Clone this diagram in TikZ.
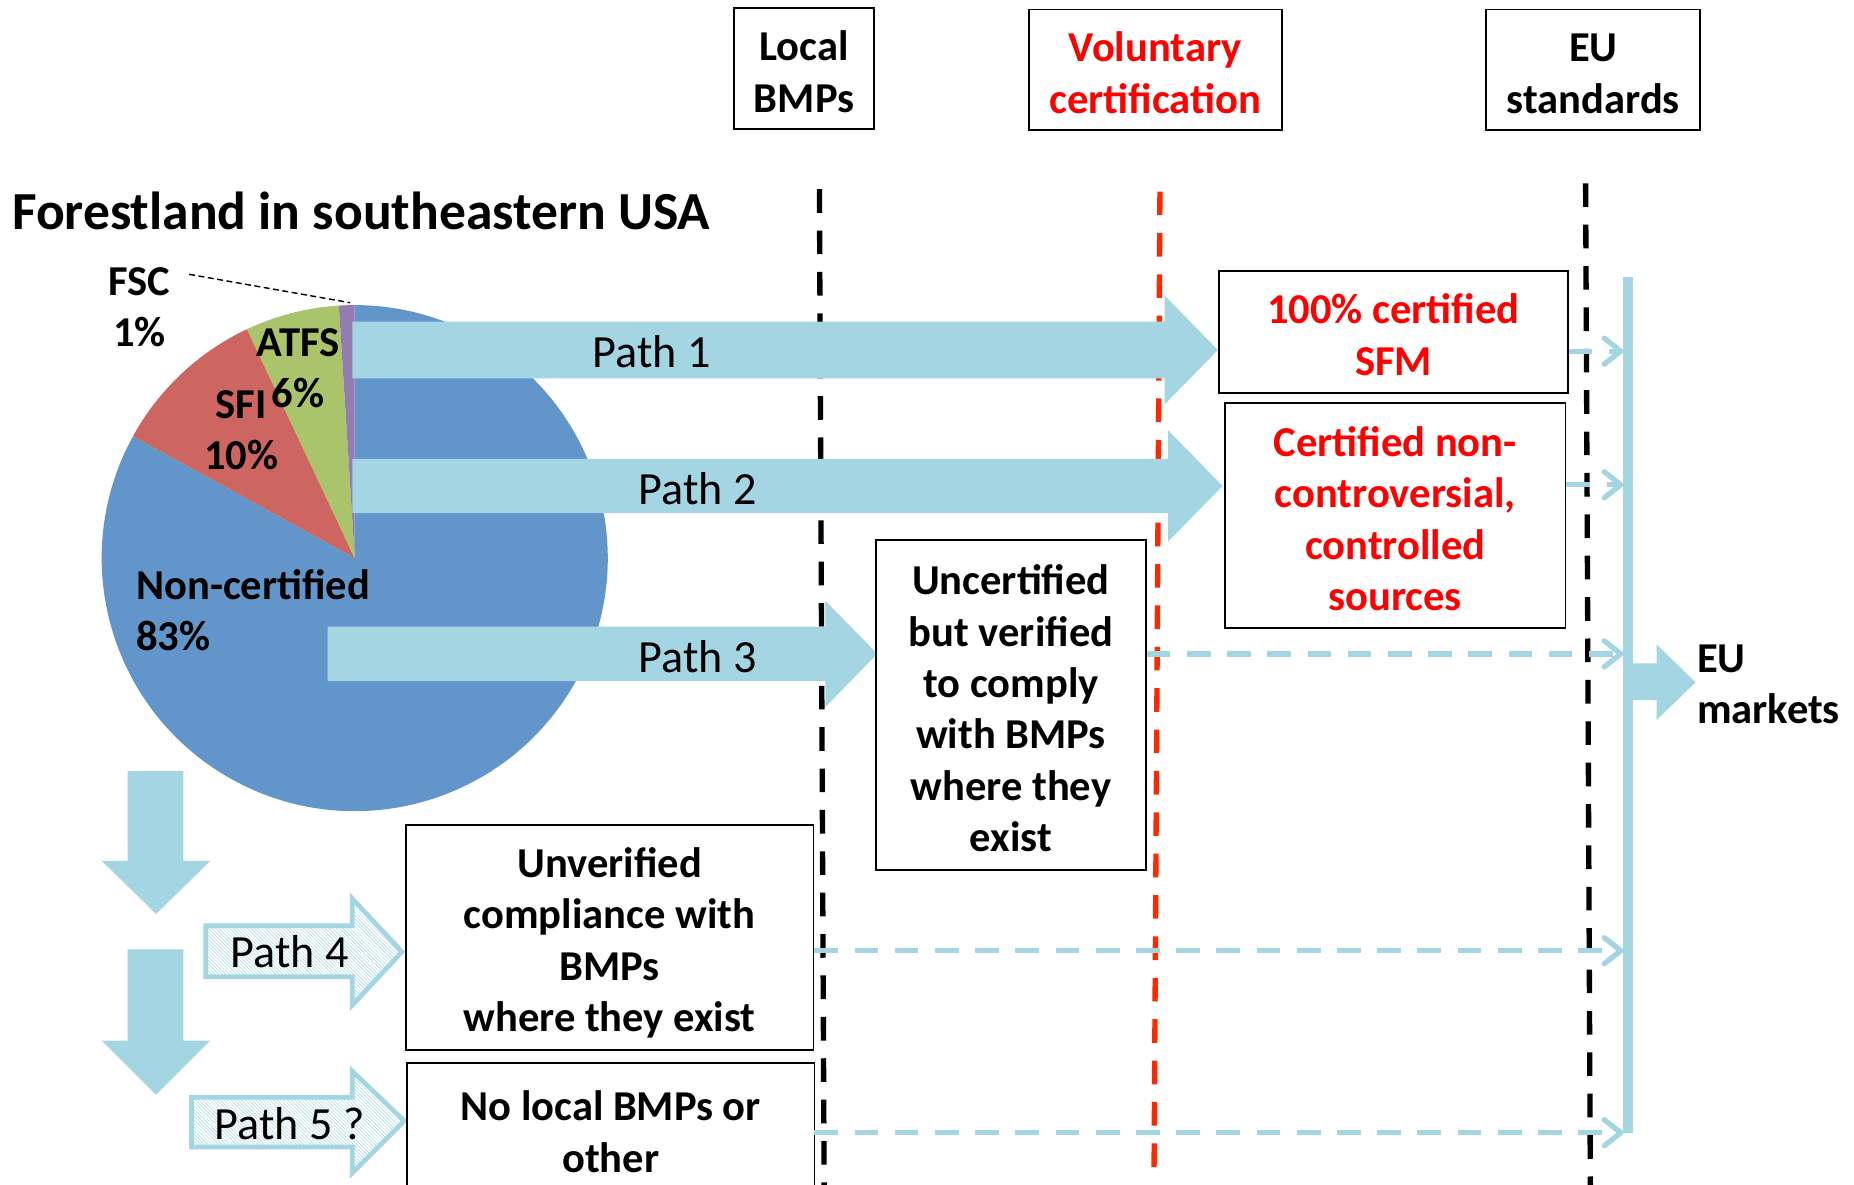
\documentclass[tikz,border=0pt]{standalone}
\usepackage{fontspec}
\setmainfont{Carlito}
\usetikzlibrary{arrows.meta,patterns}
\definecolor{pieblue}{RGB}{98,149,201}
\definecolor{piered}{RGB}{205,102,96}
\definecolor{piegreen}{RGB}{169,196,107}
\definecolor{piepurple}{RGB}{146,124,178}
\definecolor{lblue}{RGB}{164,213,227}
\definecolor{dashred}{RGB}{255,40,0}
\newcommand{\myst}{\rule{0pt}{30.5pt}}
\begin{document}
\begin{tikzpicture}[x=1pt,y=-1pt,
  box/.style={draw=black, line width=1.6pt, align=center, inner sep=0pt,
    font=\fontsize{36}{43.5}\selectfont\bfseries},
  boxline/.style={draw=black, line width=1.6pt},
  lbl/.style={align=center, inner sep=0pt, font=\fontsize{36}{43.5}\selectfont\bfseries},
  pathlbl/.style={inner sep=0pt, font=\fontsize{39}{46}\selectfont},
  bigarrow/.style={fill=lblue},
  hatcharrow/.style={draw=lblue, line width=4pt, pattern=north west lines, pattern color=lblue, line join=miter},
  vline/.style={line width=4.5pt, dash pattern=on 20pt off 15pt},
  conn/.style={draw=lblue, line width=4.5pt, dash pattern=on 20pt off 14pt,
    -{Straight Barb[length=14pt, width=22pt, round]}}
]
\useasboundingbox (0,0) rectangle (1568,1002);

% pie chart
\coordinate (pc) at (300,472);
\fill[pieblue] (pc) -- +(151.2:214pt) arc[start angle=151.2, end angle=450, radius=214pt] -- cycle;
\fill[piered] (pc) -- +(115.2:214pt) arc[start angle=115.2, end angle=151.2, radius=214pt] -- cycle;
\fill[piegreen] (pc) -- +(93.6:214pt) arc[start angle=93.6, end angle=115.2, radius=214pt] -- cycle;
\fill[piepurple] (pc) -- +(90:214pt) arc[start angle=90, end angle=93.6, radius=214pt] -- cycle;

% title
\node[anchor=base west, inner sep=0pt, font=\fontsize{45.3}{54}\selectfont\bfseries] (title) at (10,194) {Forestland in southeastern USA};

% pie labels
\node[lbl] (fsc) at (118,260) {FSC\\1\%};
\coordinate (fscpt) at (296,256);
\draw[line width=1.2pt, dash pattern=on 5pt off 3pt] (160,232) -- (fscpt);
\node[lbl] (atfs) at (252,311.5) {ATFS\\6\%};
\node[lbl] (sfi) at (204,364) {SFI\\10\%};
\node[lbl, align=left, anchor=west] (nonc) at (115,516) {Non-certified\\83\%};

% vertical dashed lines
\draw[vline, black] (693,160) -- (697,1002);
\draw[vline, dashred] (981,162) -- (976,992);
\draw[vline, black] (1341,155) -- (1345,1002);

% big path arrows
\fill[bigarrow] (298,272) -- (985,272) -- (985,250) -- (1030,296) -- (985,342) -- (985,320) -- (298,320) -- cycle;
\fill[bigarrow] (298,388) -- (988,388) -- (988,364) -- (1034,411) -- (988,458) -- (988,434) -- (298,434) -- cycle;
\fill[bigarrow] (277,530) -- (698,530) -- (698,508) -- (742,553) -- (698,598) -- (698,576) -- (277,576) -- cycle;
\node[pathlbl] (p1) at (551,297) {Path 1};
\node[pathlbl] (p2) at (590,413) {Path 2};
\node[pathlbl] (p3) at (590,555) {Path 3};

% down arrows
\fill[bigarrow] (108,652) -- (155,652) -- (155,728) -- (178,728) -- (132,773) -- (86,728) -- (108,728) -- cycle;
\fill[bigarrow] (108,803) -- (155,803) -- (155,880) -- (178,880) -- (132,926) -- (86,880) -- (108,880) -- cycle;

% hatched arrows
\path[hatcharrow] (174,783) -- (298,783) -- (298,760) -- (340,805) -- (298,850) -- (298,826) -- (174,826) -- cycle;
\path[hatcharrow] (162,928) -- (298,928) -- (298,906) -- (342,948) -- (298,992) -- (298,970) -- (162,970) -- cycle;
\node[pathlbl] (p4) at (245,805) {Path 4};
\node[pathlbl] (p5) at (245,950) {Path 5 ?};

% header boxes
\node[box, minimum width=118pt, minimum height=102pt] (local) at (680,58) {\myst Local\\BMPs};
\node[box, text=red, minimum width=214pt, minimum height=102pt] (vol) at (977,59) {\myst Voluntary\\certification};
\node[box, minimum width=181pt, minimum height=102pt] (eu) at (1347.5,59) {\myst EU\\standards};

% content boxes
\node[box, fill=white, text=red, minimum width=295pt, minimum height=103pt] (sfm) at (1178.5,280.5) {\myst 100\% certified\\SFM};
\node[box, fill=white, text=red, minimum width=288pt, minimum height=190pt] (cnc) at (1180,436) {\myst Certified non-\\controversial,\\controlled\\sources};
\node[box, fill=white, minimum width=228pt, minimum height=279pt] (unc) at (855,596.5) {\myst Uncertified\\but verified\\to comply\\with BMPs\\where they\\exist};
\node[box, fill=white, minimum width=345pt, minimum height=190pt] (unv) at (515.5,793) {\rule{0pt}{34.5pt}Unverified\\compliance with\\BMPs\\where they exist};
\node[box, draw=none, minimum width=343pt, minimum height=109pt] (nol) at (516.5,954.5) {\myst No local BMPs or\\other};
\draw[boxline] (nol.south west) -- (nol.north west) -- (nol.north east) -- (nol.south east);

% EU market bar
\coordinate (bartop) at (1377,234);
\coordinate (barbot) at (1377,958);
\draw[lblue, line width=8pt] (bartop) -- (barbot);
\fill[bigarrow] (1377,561) -- (1401,561) -- (1401,545) -- (1434,577) -- (1401,609) -- (1401,592) -- (1377,592) -- cycle;
\node[lbl, align=left, anchor=west] (eum) at (1435,579) {EU\\markets};

% dashed connectors
\coordinate (m1) at (1373,297);
\coordinate (m2) at (1373,410);
\coordinate (m3) at (1373,553);
\coordinate (m4) at (1373,804);
\coordinate (m5) at (1373,958);
\draw[conn] (m1 -| sfm.east) -- (m1);
\draw[conn] (m2 -| cnc.east) -- (m2);
\draw[conn] (m3 -| unc.east) -- (m3);
\draw[conn] (m4 -| unv.east) -- (m4);
\draw[conn] (m5 -| nol.east) -- (m5);
\end{tikzpicture}
\end{document}
